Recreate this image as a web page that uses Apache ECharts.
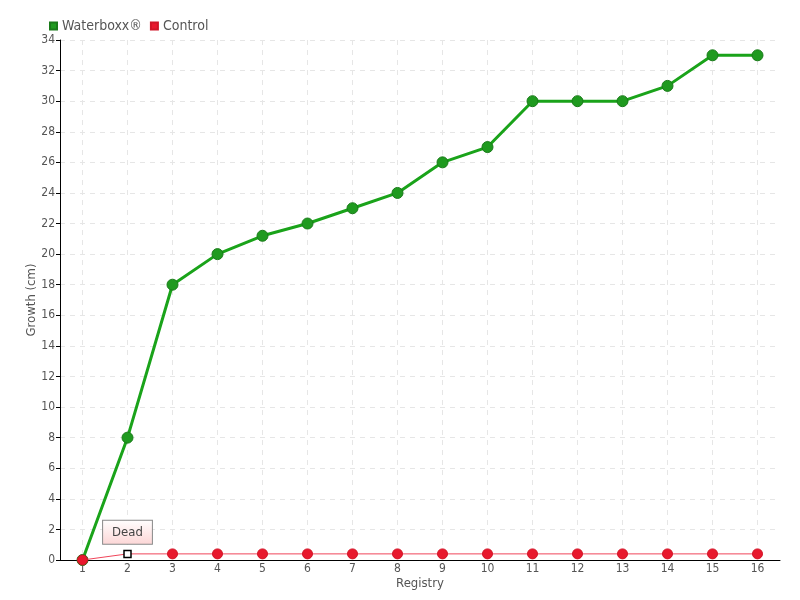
<!DOCTYPE html>
<html>
<head>
<meta charset="utf-8">
<script src="https://cdn.jsdelivr.net/npm/echarts@6/dist/echarts.min.js"></script>
<style>
  html, body { margin: 0; padding: 0; background: #fff; }
  #chart { width: 800px; height: 600px; }
</style>
</head>
<body>
<div id="chart"></div>
<script>
const registry = ['1', '2', '3', '4', '5', '6', '7', '8', '9', '10', '11', '12', '13', '14', '15', '16']
const waterboxx = [0, 8, 18, 20, 21.2, 22, 23, 24, 26, 27, 30, 30, 30, 31, 33, 33]
const control = [0, 0.4, 0.4, 0.4, 0.4, 0.4, 0.4, 0.4, 0.4, 0.4, 0.4, 0.4, 0.4, 0.4, 0.4, 0.4]
const deadIndex = 1

const font = '"DejaVu Sans Condensed", "Liberation Sans Narrow", sans-serif'
const textColor = '#555'

const chart = echarts.init(document.getElementById('chart'))

chart.setOption({
  animation: false,
  textStyle: { fontFamily: font },
  legend: {
    left: 44,
    top: 14,
    itemWidth: 7,
    itemHeight: 7,
    itemGap: 8,
    icon: 'rect',
    textStyle: { color: textColor, fontSize: 14, fontFamily: font },
    data: ['Waterboxx®', 'Control'],
  },
  grid: { left: 60, right: 20, top: 40, bottom: 40, outerBoundsMode: 'none', containLabel: false },
  xAxis: {
    type: 'category',
    data: registry,
    boundaryGap: true,
    name: 'Registry',
    nameLocation: 'middle',
    nameGap: 17,
    nameMoveOverlap: false,
    nameTextStyle: { color: textColor, fontSize: 13, fontFamily: font },
    axisLine: { lineStyle: { color: '#000', width: 1 } },
    axisTick: { alignWithLabel: true, length: 4, lineStyle: { color: '#555' } },
    axisLabel: { color: textColor, fontSize: 12, margin: 3, fontFamily: font },
    splitLine: { show: true, alignWithLabel: true, lineStyle: { color: '#e6e6e6', type: [5, 5] } },
  },
  yAxis: {
    type: 'value',
    min: 0,
    max: 34,
    interval: 2,
    name: 'Growth (cm)',
    nameLocation: 'middle',
    nameGap: 22,
    nameMoveOverlap: false,
    nameTextStyle: { color: textColor, fontSize: 13, fontFamily: font },
    axisLine: { show: true, lineStyle: { color: '#000', width: 1 } },
    axisTick: { show: true, length: 4, lineStyle: { color: '#000' } },
    axisLabel: { color: textColor, fontSize: 12, margin: 5, fontFamily: font },
    splitLine: { lineStyle: { color: '#e6e6e6', type: [5, 5] } },
  },
  series: [
    {
      name: 'Waterboxx®',
      type: 'line',
      data: waterboxx,
      symbol: 'circle',
      symbolSize: 11,
      lineStyle: { color: '#1aa31a', width: 3 },
      itemStyle: { color: '#1f9a1f', borderColor: '#197a19', borderWidth: 1 },
      z: 2,
    },
    {
      name: 'Control',
      type: 'line',
      data: control.map((v, i) => i === deadIndex ? {
        value: v,
        symbol: 'rect',
        symbolSize: 7,
        itemStyle: { color: '#fff', borderColor: '#000', borderWidth: 1.5 },
        label: {
          show: true,
          position: 'top',
          distance: 6,
          formatter: 'Dead',
          color: '#444',
          fontSize: 13,
          fontFamily: font,
          padding: [5, 9, 5, 9],
          borderColor: '#888',
          borderWidth: 1,
          backgroundColor: {
            type: 'linear', x: 0, y: 0, x2: 0, y2: 1,
            colorStops: [{ offset: 0, color: '#ffffff' }, { offset: 1, color: '#fcd6d6' }],
          },
        },
      } : v),
      symbol: 'circle',
      symbolSize: 10,
      lineStyle: { color: '#f0455a', width: 1 },
      itemStyle: { color: '#e8182d', borderColor: '#d01426', borderWidth: 1 },
      z: 3,
    },
  ],
})
</script>
</body>
</html>
